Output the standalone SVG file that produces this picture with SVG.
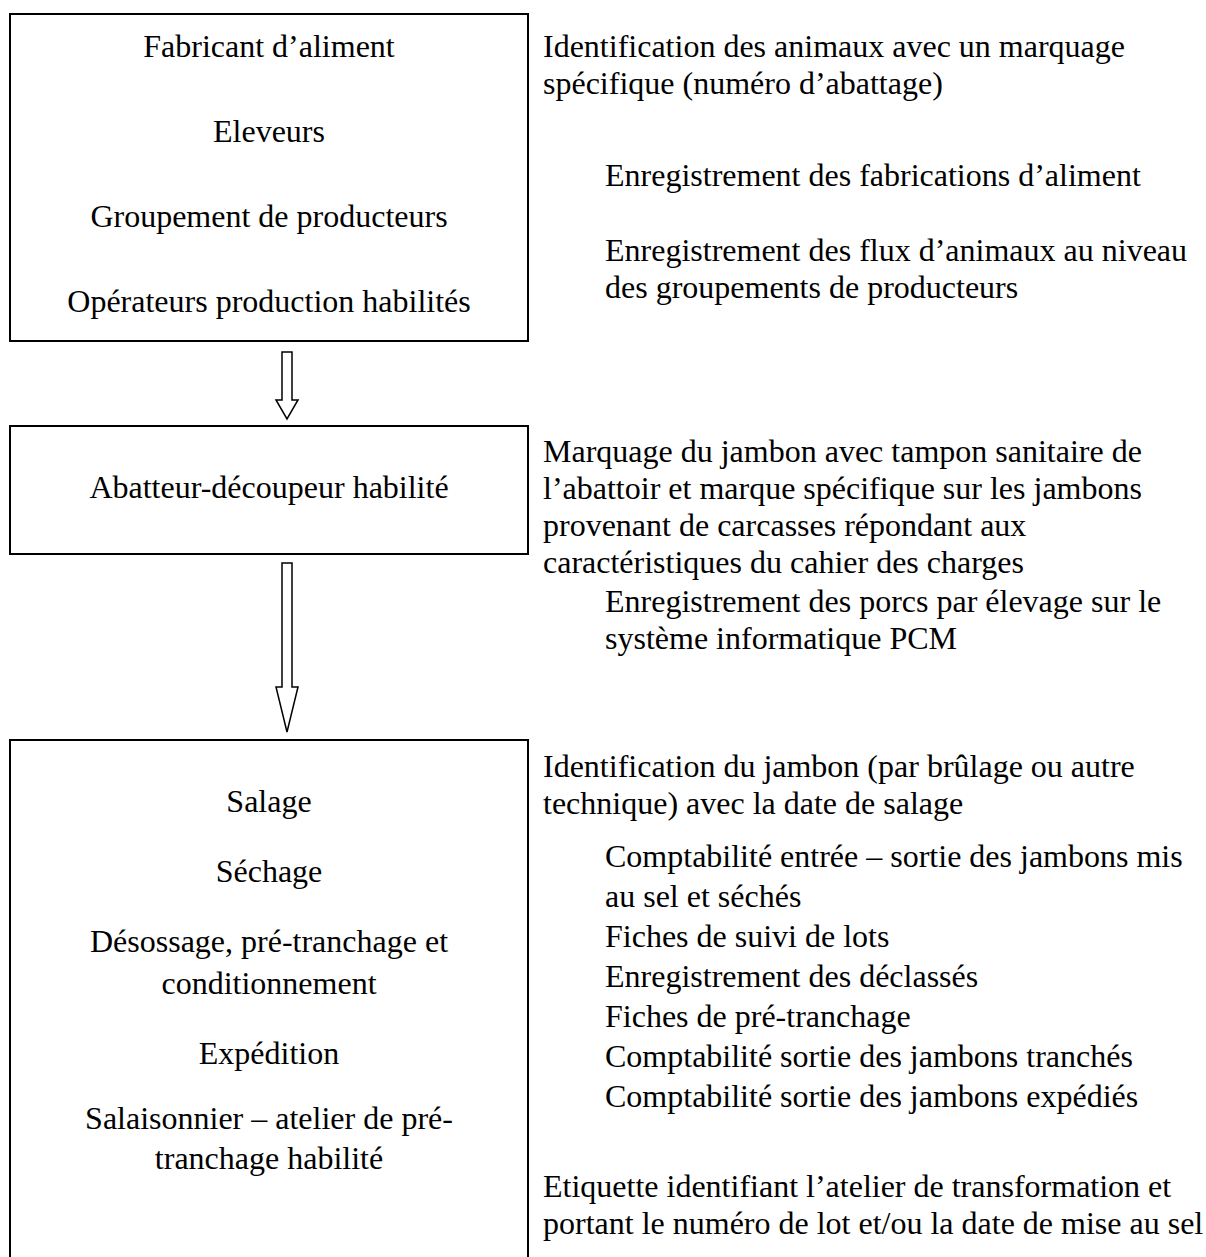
<svg xmlns="http://www.w3.org/2000/svg" width="1206" height="1257" viewBox="0 0 1206 1257">
<style>
.box{fill:#fff;stroke:#000;stroke-width:2}
.arr{fill:#fff;stroke:#000;stroke-width:1.5;stroke-linejoin:miter}
text{font-family:"Liberation Serif","Times New Roman",serif;font-size:32px;fill:#000}
.c{text-anchor:middle}
</style>
<rect width="1206" height="1257" fill="#fff"/>
<g id="connectors">
<polygon class="arr" points="282,352 292,352 292,400 298,400 287,419 276,400 282,400"/>
<polygon class="arr" points="282,563 292,563 292,687 298,687 287,732 276,687 282,687"/>
</g>
<g id="node-production">
<rect class="box" x="10" y="14" width="518" height="327"/>
<text class="c" x="269" y="57">Fabricant d’aliment</text>
<text class="c" x="269" y="142">Eleveurs</text>
<text class="c" x="269" y="227">Groupement de producteurs</text>
<text class="c" x="269" y="312">Opérateurs production habilités</text>
</g>
<g id="note-production">
<text x="543" y="57">Identification des animaux avec un marquage</text>
<text x="543" y="94">spécifique (numéro d’abattage)</text>
<text x="605" y="186">Enregistrement des fabrications d’aliment</text>
<text x="605" y="261">Enregistrement des flux d’animaux au niveau</text>
<text x="605" y="298">des groupements de producteurs</text>
</g>
<g id="node-abattoir">
<rect class="box" x="10" y="426" width="518" height="128"/>
<text class="c" x="269" y="498">Abatteur-découpeur habilité</text>
</g>
<g id="note-abattoir">
<text x="543" y="462">Marquage du jambon avec tampon sanitaire de</text>
<text x="543" y="499">l’abattoir et marque spécifique sur les jambons</text>
<text x="543" y="536">provenant de carcasses répondant aux</text>
<text x="543" y="573">caractéristiques du cahier des charges</text>
<text x="605" y="612">Enregistrement des porcs par élevage sur le</text>
<text x="605" y="649">système informatique PCM</text>
</g>
<g id="node-salaison">
<polyline fill="none" stroke="#000" stroke-width="2" points="10,1257 10,740 528,740 528,1257"/>
<text class="c" x="269" y="812">Salage</text>
<text class="c" x="269" y="882">Séchage</text>
<text class="c" x="269" y="952">Désossage, pré-tranchage et</text>
<text class="c" x="269" y="994">conditionnement</text>
<text class="c" x="269" y="1064">Expédition</text>
<text class="c" x="269" y="1129">Salaisonnier – atelier de pré-</text>
<text class="c" x="269" y="1169">tranchage habilité</text>
</g>
<g id="note-salaison">
<text x="543" y="777">Identification du jambon (par brûlage ou autre</text>
<text x="543" y="814">technique) avec la date de salage</text>
<text x="605" y="867">Comptabilité entrée – sortie des jambons mis</text>
<text x="605" y="907">au sel et séchés</text>
<text x="605" y="947">Fiches de suivi de lots</text>
<text x="605" y="987">Enregistrement des déclassés</text>
<text x="605" y="1027">Fiches de pré-tranchage</text>
<text x="605" y="1067">Comptabilité sortie des jambons tranchés</text>
<text x="605" y="1107">Comptabilité sortie des jambons expédiés</text>
<text x="543" y="1197">Etiquette identifiant l’atelier de transformation et</text>
<text x="543" y="1234">portant le numéro de lot et/ou la date de mise au sel</text>
</g>
</svg>
